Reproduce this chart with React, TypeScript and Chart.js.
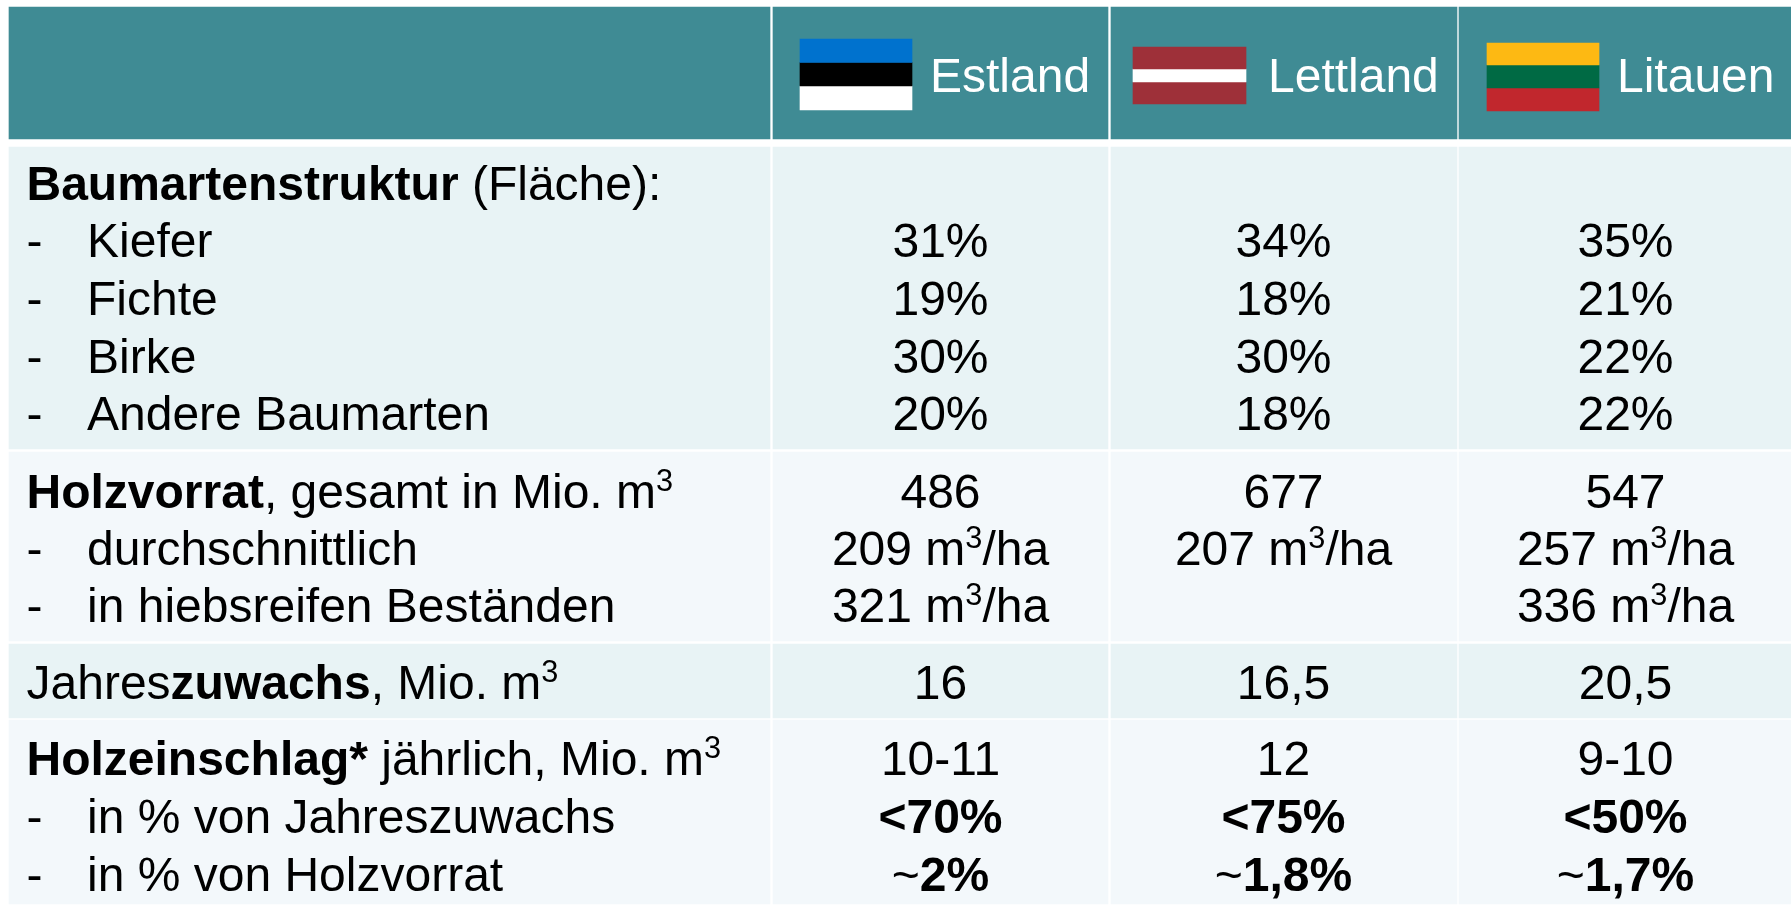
import React, { useEffect, useRef } from "react";
import { Chart, registerables } from "chart.js";

Chart.register(...registerables);

// ---- table content ----
const countries = ["Estland", "Lettland", "Litauen"];
const rowLabels = [
  "**Baumartenstruktur** (Fläche):",
  "- Kiefer",
  "- Fichte",
  "- Birke",
  "- Andere Baumarten",
  "**Holzvorrat**, gesamt in Mio. m^3^",
  "- durchschnittlich",
  "- in hiebsreifen Beständen",
  "Jahres**zuwachs**, Mio. m^3^",
  "**Holzeinschlag*** jährlich, Mio. m^3^",
  "- in % von Jahreszuwachs",
  "- in % von Holzvorrat",
];
const estlandValues = ["", "31%", "19%", "30%", "20%", "486", "209 m^3^/ha", "321 m^3^/ha", "16", "10-11", "**<70%**", "~**2%**"];
const lettlandValues = ["", "34%", "18%", "30%", "18%", "677", "207 m^3^/ha", "", "16,5", "12", "**<75%**", "~**1,8%**"];
const litauenValues = ["", "35%", "21%", "22%", "22%", "547", "257 m^3^/ha", "336 m^3^/ha", "20,5", "9-10", "**<50%**", "~**1,7%**"];
const countryValues = [estlandValues, lettlandValues, litauenValues];

// ---- layout (page pixels, read through the hidden linear scales) ----
const W = 1791;
const H = 905;
const columnEdges: [number, number][] = [[9, 770], [773, 1108], [1111, 1457], [1459, 1791]];
const bandEdges: [number, number][] = [[7, 139], [147, 449], [452, 641], [644, 718], [720, 904]];
const bandColors = ["#3F8B94", "#E8F3F5", "#F3F8FB", "#E8F3F5", "#F3F8FB"];
const lineBaselines = [200, 257, 315, 373, 430, 508, 565, 622, 699, 775, 833, 891];
const columnCenters = [940.5, 1283.5, 1625.5];
const headerTextX = [930, 1268, 1617];
const headerBaseline = 92;
const labelX = 26.5;
const labelIndentX = 87;
const fontSize = 48;
const fontFamily = '"Liberation Sans", Arial, sans-serif';

const flagColumns = [[800, 912], [1133, 1246], [1487, 1599]];
const flagStripes: { edges: [number, number]; color: string }[][] = [
  [
    { edges: [39, 62.5], color: "#0072CE" },
    { edges: [62.5, 86], color: "#000000" },
    { edges: [86, 110], color: "#FFFFFF" },
  ],
  [
    { edges: [47, 69], color: "#9E3039" },
    { edges: [69, 82], color: "#FFFFFF" },
    { edges: [82, 104], color: "#9E3039" },
  ],
  [
    { edges: [43, 65], color: "#FDB913" },
    { edges: [65, 88], color: "#006A44" },
    { edges: [88, 111], color: "#C1272D" },
  ],
];

type Run = { text: string; bold: boolean; sup: boolean };

function parseRuns(src: string): Run[] {
  const runs: Run[] = [];
  let bold = false;
  let sup = false;
  let buf = "";
  const flush = () => {
    if (buf) runs.push({ text: buf, bold, sup });
    buf = "";
  };
  for (let i = 0; i < src.length; i++) {
    if (src.startsWith("***", i) && bold) {
      buf += "*";
      flush();
      bold = false;
      i += 2;
    } else if (src.startsWith("**", i)) {
      flush();
      bold = !bold;
      i += 1;
    } else if (src[i] === "^") {
      flush();
      sup = !sup;
    } else {
      buf += src[i];
    }
  }
  flush();
  return runs;
}

function setRunFont(ctx: CanvasRenderingContext2D, run: Run) {
  const size = run.sup ? fontSize * 0.64 : fontSize;
  ctx.font = `${run.bold ? "bold " : ""}${size}px ${fontFamily}`;
}

function runsWidth(ctx: CanvasRenderingContext2D, runs: Run[]) {
  return runs.reduce((w, r) => {
    setRunFont(ctx, r);
    return w + ctx.measureText(r.text).width;
  }, 0);
}

function drawRuns(ctx: CanvasRenderingContext2D, runs: Run[], x: number, y: number) {
  let cx = x;
  for (const r of runs) {
    setRunFont(ctx, r);
    ctx.fillText(r.text, cx, r.sup ? y - 17 : y);
    cx += ctx.measureText(r.text).width;
  }
}

const tableText = {
  id: "tableText",
  afterDatasetsDraw(chart: any) {
    const { ctx, scales } = chart;
    const px = (v: number) => scales.x.getPixelForValue(v);
    const py = (v: number) => scales.y.getPixelForValue(v);
    ctx.save();
    ctx.textAlign = "left";
    ctx.textBaseline = "alphabetic";
    ctx.fillStyle = "#FFFFFF";
    countries.forEach((name, i) => {
      ctx.font = `${fontSize}px ${fontFamily}`;
      ctx.fillText(name, px(headerTextX[i]), py(headerBaseline));
    });
    ctx.fillStyle = "#000000";
    rowLabels.forEach((label, i) => {
      const y = py(lineBaselines[i]);
      if (label.startsWith("- ")) {
        ctx.font = `${fontSize}px ${fontFamily}`;
        ctx.fillText("-", px(labelX), y);
        drawRuns(ctx, parseRuns(label.slice(2)), px(labelIndentX), y);
      } else {
        drawRuns(ctx, parseRuns(label), px(labelX), y);
      }
    });
    countryValues.forEach((values, c) => {
      values.forEach((value, i) => {
        if (!value) return;
        const runs = parseRuns(value);
        const w = runsWidth(ctx, runs);
        drawRuns(ctx, runs, px(columnCenters[c]) - w / 2, py(lineBaselines[i]));
      });
    });
    ctx.restore();
  },
};

function cellDataset(x: [number, number], y: [number, number], color: string, label: string) {
  return {
    label,
    data: [{ x: (x[0] + x[1]) / 2, y }],
    backgroundColor: color,
    barThickness: x[1] - x[0],
    borderWidth: 0,
    grouped: false,
  };
}

export default function App() {
  const ref = useRef<HTMLCanvasElement>(null);
  useEffect(() => {
    document.body.style.margin = "0";
    document.body.style.background = "#FFFFFF";
    const datasets: any[] = [];
    // Chart.js paints the first dataset last, so the flags come first.
    flagStripes.forEach((stripes, f) => {
      stripes.forEach((s, k) => {
        datasets.push(cellDataset(flagColumns[f] as [number, number], s.edges, s.color, `flag-${countries[f]}-${k}`));
      });
    });
    bandEdges.forEach((band, b) => {
      columnEdges.forEach((col, c) => {
        datasets.push(cellDataset(col, band, bandColors[b], `cell-${b}-${c}`));
      });
    });
    const chart = new Chart(ref.current as HTMLCanvasElement, {
      type: "bar",
      data: { datasets },
      options: {
        animation: false,
        responsive: false,
        devicePixelRatio: 1,
        layout: { padding: 0 },
        parsing: { xAxisKey: "x", yAxisKey: "y" },
        plugins: { legend: { display: false }, tooltip: { enabled: false }, title: { display: false } },
        scales: {
          x: { type: "linear", min: 0, max: W, display: false, offset: false },
          y: { type: "linear", min: 0, max: H, reverse: true, display: false },
        },
      } as any,
      plugins: [tableText],
    });
    return () => chart.destroy();
  }, []);
  return <canvas ref={ref} width={W} height={H} style={{ display: "block" }} />;
}
